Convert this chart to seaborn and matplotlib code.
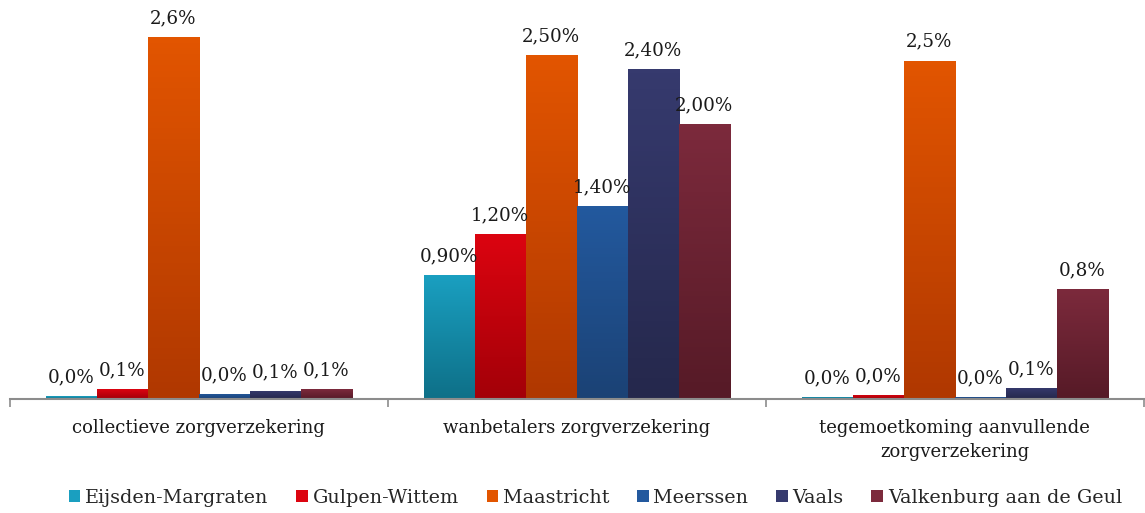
import numpy as np
import pandas as pd
import matplotlib
matplotlib.use("Agg")
import matplotlib.pyplot as plt
import seaborn as sns
from matplotlib.colors import LinearSegmentedColormap
from matplotlib.patches import Patch

# ============================
# 1. Data
# ============================
categories = [
    "collectieve zorgverzekering",
    "wanbetalers zorgverzekering",
    "tegemoetkoming aanvullende\nzorgverzekering",
]
municipalities = ["Eijsden-Margraten", "Gulpen-Wittem", "Maastricht",
                  "Meerssen", "Vaals", "Valkenburg aan de Geul"]

eijsden = [0.02, 0.90, 0.015]
gulpen = [0.07, 1.20, 0.03]
maastricht = [2.63, 2.50, 2.46]
meerssen = [0.04, 1.40, 0.015]
vaals = [0.06, 2.40, 0.08]
valkenburg = [0.07, 2.00, 0.80]

lbl_eijsden = ["0,0%", "0,90%", "0,0%"]
lbl_gulpen = ["0,1%", "1,20%", "0,0%"]
lbl_maastricht = ["2,6%", "2,50%", "2,5%"]
lbl_meerssen = ["0,0%", "1,40%", "0,0%"]
lbl_vaals = ["0,1%", "2,40%", "0,1%"]
lbl_valkenburg = ["0,1%", "2,00%", "0,8%"]

series = [eijsden, gulpen, maastricht, meerssen, vaals, valkenburg]
labels = [lbl_eijsden, lbl_gulpen, lbl_maastricht, lbl_meerssen, lbl_vaals, lbl_valkenburg]

rows = []
for name, vals, lbls in zip(municipalities, series, labels):
    for cat, v, l in zip(categories, vals, lbls):
        rows.append({"categorie": cat, "gemeente": name, "waarde": v, "label": l})
df = pd.DataFrame(rows)

# gradient colours per municipality (top, bottom)
grad = {
    "Eijsden-Margraten": ("#1a9fc0", "#0e7088"),
    "Gulpen-Wittem": ("#dc0410", "#a30008"),
    "Maastricht": ("#e25500", "#b03800"),
    "Meerssen": ("#23599e", "#1b4275"),
    "Vaals": ("#363a6e", "#25284c"),
    "Valkenburg aan de Geul": ("#7c2a3c", "#561a27"),
}
solid = {k: v[0] for k, v in grad.items()}

# ============================
# 2. Plot
# ============================
sns.set_style("white")
plt.rcParams["font.family"] = ["DejaVu Serif"]

fig = plt.figure(figsize=(11.45, 5.13), dpi=100)
ax = fig.add_axes([0.0087, 0.222, 0.99, 0.778])

sns.barplot(data=df, x="categorie", y="waarde", hue="gemeente",
            order=categories, hue_order=municipalities, palette=solid,
            width=0.81, dodge=True, errorbar=None, legend=False, ax=ax)

# gradient fill + value labels
for cont, name in zip(ax.containers, municipalities):
    top, bot = grad[name]
    cmap = LinearSegmentedColormap.from_list(name, [bot, top])
    sub = df[df["gemeente"] == name].set_index("categorie").loc[categories]
    for bar, lbl in zip(cont, sub["label"]):
        x0, w, h = bar.get_x(), bar.get_width(), bar.get_height()
        img = ax.imshow(np.linspace(0, 1, 64).reshape(-1, 1), cmap=cmap,
                        origin="lower", aspect="auto",
                        extent=[x0, x0 + w, 0, h], zorder=bar.get_zorder())
        img.set_clip_path(bar)
        bar.set_facecolor("none")
        ax.annotate(lbl, (x0 + w / 2, h), xytext=(0, 7), textcoords="offset points",
                    ha="center", va="bottom", fontsize=13.2, color="#1a1a1a")

ax.set_xlim(-0.5, 2.5)
ax.set_ylim(0, 2.9)

for s in ["top", "right", "left"]:
    ax.spines[s].set_visible(False)
ax.spines["bottom"].set_color("#8c8c8c")
ax.spines["bottom"].set_linewidth(1.5)
ax.set_yticks([])
ax.set_xlabel("")
ax.set_ylabel("")
ax.set_xticks([0, 1, 2])
ax.set_xticklabels(categories, fontsize=13, color="#1a1a1a", linespacing=1.45)
ax.set_xticks([-0.5, 0.5, 1.5, 2.5], minor=True)
ax.tick_params(axis="x", which="major", length=0, pad=14)
ax.tick_params(axis="x", which="minor", bottom=True, length=6, width=1.2,
               color="#8c8c8c", direction="out")

handles = [Patch(facecolor=grad[m][0], edgecolor="none") for m in municipalities]
fig.legend(handles, municipalities, loc="center", bbox_to_anchor=(0.52, 0.03),
           ncol=6, frameon=False, fontsize=13.8, handlelength=0.6, handleheight=0.6,
           handletextpad=0.25, columnspacing=1.45)

fig.savefig("out.png", dpi=100)
